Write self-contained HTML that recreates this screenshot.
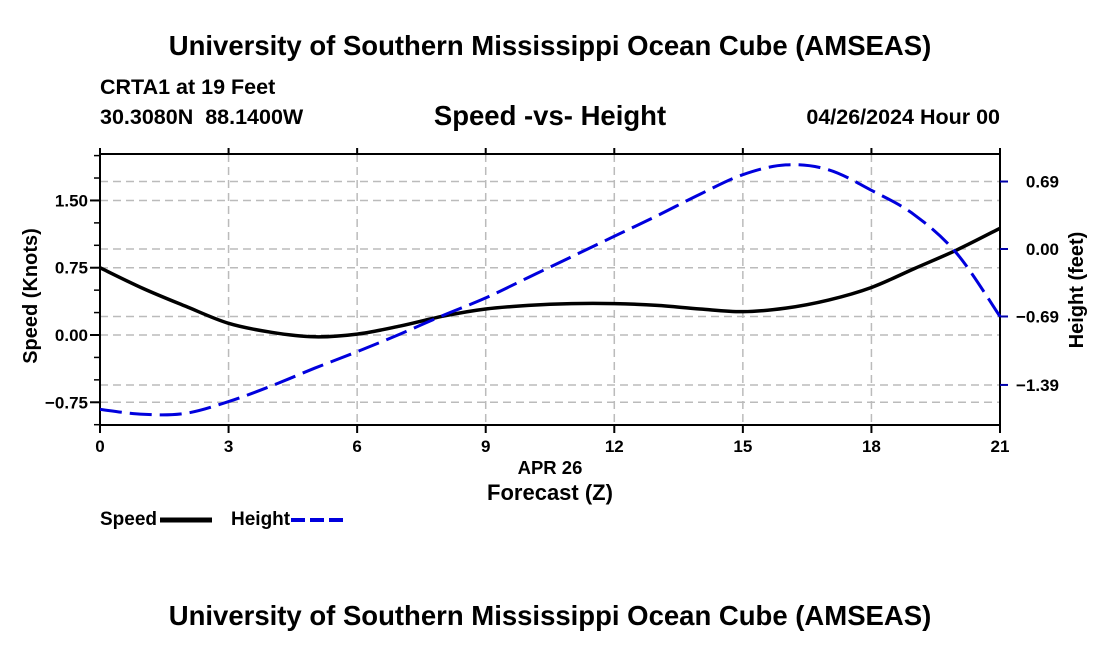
<!DOCTYPE html>
<html><head><meta charset="utf-8"><style>
body{margin:0;background:#fff;width:1100px;height:650px;overflow:hidden;font-family:"Liberation Sans",sans-serif}
svg text{font-family:"Liberation Sans",sans-serif;font-weight:bold;fill:#000;white-space:pre}
</style></head><body>
<svg id="chart" width="1100" height="650" xmlns="http://www.w3.org/2000/svg">
<text x="550" y="55" font-size="27.5" text-anchor="middle">University of Southern Mississippi Ocean Cube (AMSEAS)</text>
<text x="100" y="94" font-size="21.5">CRTA1 at 19 Feet</text>
<text x="100" y="124" font-size="21.5" xml:space="preserve">30.3080N  88.1400W</text>
<text x="550" y="125" font-size="27.5" text-anchor="middle">Speed -vs- Height</text>
<text x="1000" y="124" font-size="21.5" text-anchor="end">04/26/2024 Hour 00</text>
<g id="grid"></g>
<g id="axes"></g>
<g id="series"></g>
<text transform="translate(37,296) rotate(-90)" font-size="20" text-anchor="middle">Speed (Knots)</text>
<text transform="translate(1083,290) rotate(-90)" font-size="20" text-anchor="middle">Height (feet)</text>
<text x="550" y="474" font-size="18.5" text-anchor="middle">APR 26</text>
<text x="550" y="500" font-size="22" text-anchor="middle">Forecast (Z)</text>
<g>
<text x="100" y="525" font-size="19">Speed</text>
<line x1="160" y1="520" x2="212" y2="520" stroke="#000" stroke-width="5"/>
<text x="231" y="525" font-size="19">Height</text>
<line x1="291" y1="520" x2="343" y2="520" stroke="#0000dd" stroke-width="4" stroke-dasharray="14,5"/>
</g>
<text x="550" y="625" font-size="27.5" text-anchor="middle">University of Southern Mississippi Ocean Cube (AMSEAS)</text>
</svg>
<script>
const hours=[0,1,2,3,4,5,6,7,8,9,10,11,12,13,14,15,16,17,18,19,20,21];
const speed=[0.75,0.52,0.32,0.13,0.03,-0.02,0.01,0.10,0.21,0.29,0.33,0.35,0.35,0.33,0.29,0.26,0.30,0.39,0.53,0.74,0.95,1.19];
const height=[-1.64,-1.69,-1.68,-1.56,-1.40,-1.22,-1.05,-0.87,-0.68,-0.50,-0.29,-0.08,0.13,0.34,0.56,0.76,0.86,0.81,0.60,0.35,-0.05,-0.69];
const xTicks=[0,3,6,9,12,15,18,21];
const leftTicks=[-0.75,0,0.75,1.5];
const leftTickLabels=["\u22120.75","0.00","0.75","1.50"];
const rightTicks=[-1.39,-0.69,0,0.69];
const rightTickLabels=["\u22121.39","\u22120.69","0.00","0.69"];
const L=100,R=1000,T=154,B=425;
const xs=t=>L+t*(R-L)/21;
const ys=v=>335-v*89.7;
const yh=h=>249-h*97.8;
const NS="http://www.w3.org/2000/svg";
function mk(tag,attrs,parent){const e=document.createElementNS(NS,tag);for(const k in attrs)e.setAttribute(k,attrs[k]);parent.appendChild(e);return e;}
const grid=document.getElementById('grid'),axes=document.getElementById('axes'),ser=document.getElementById('series');
const gs={stroke:"#bbb","stroke-width":1.5,"stroke-dasharray":"8,5"};
leftTicks.forEach(v=>{const l=mk('line',Object.assign({x1:L,x2:R,y1:ys(v),y2:ys(v)},gs),grid);

});
rightTicks.forEach(v=>{const l=mk('line',Object.assign({x1:L,x2:R,y1:yh(v),y2:yh(v)},gs),grid);

});
xTicks.slice(1,-1).forEach(t=>{const l=mk('line',Object.assign({x1:xs(t),x2:xs(t),y1:T,y2:B},gs),grid);

});
const fr=mk('rect',{x:L,y:T,width:R-L,height:B-T,fill:"none",stroke:"#000","stroke-width":2},axes);


xTicks.forEach(t=>{mk('line',{x1:xs(t),x2:xs(t),y1:B,y2:B+8,stroke:"#000","stroke-width":2},axes);mk('line',{x1:xs(t),x2:xs(t),y1:T,y2:T-6,stroke:"#000","stroke-width":2},axes);
const tx=mk('text',{x:xs(t),y:B+27,"font-size":17,"text-anchor":"middle"},axes);tx.textContent=t;

});
for(let v=-1;v<=2.01;v+=0.25){mk('line',{x1:L-6,x2:L,y1:ys(v),y2:ys(v),stroke:"#000","stroke-width":1.5},axes);}
leftTicks.forEach((v,i)=>{mk('line',{x1:L-10,x2:L,y1:ys(v),y2:ys(v),stroke:"#000","stroke-width":2},axes);
const tx=mk('text',{x:L-12,y:ys(v)+6,"font-size":17,"text-anchor":"end"},axes);tx.textContent=leftTickLabels[i];

});
rightTicks.forEach((v,i)=>{mk('line',{x1:R,x2:R+8,y1:yh(v),y2:yh(v),stroke:"#0000aa","stroke-width":2},axes);
const tx=mk('text',{x:R+59,y:yh(v)+6,"font-size":17,"text-anchor":"end"},axes);tx.textContent=rightTickLabels[i];

});
function smooth(pts){let d=`M${pts[0][0]},${pts[0][1]}`;for(let i=0;i<pts.length-1;i++){const p0=pts[Math.max(0,i-1)],p1=pts[i],p2=pts[i+1],p3=pts[Math.min(pts.length-1,i+2)];
d+=` C${p1[0]+(p2[0]-p0[0])/6},${p1[1]+(p2[1]-p0[1])/6} ${p2[0]-(p3[0]-p1[0])/6},${p2[1]-(p3[1]-p1[1])/6} ${p2[0]},${p2[1]}`;}return d;}
const sp=mk('path',{d:smooth(hours.map((h,i)=>[xs(h),ys(speed[i])])),fill:"none",stroke:"#000","stroke-width":3.5},ser);


const hp=mk('path',{d:smooth(hours.map((h,i)=>[xs(h),yh(height[i])])),fill:"none",stroke:"#0000dd","stroke-width":3,"stroke-dasharray":"22,8"},ser);


</script>
</body></html>
